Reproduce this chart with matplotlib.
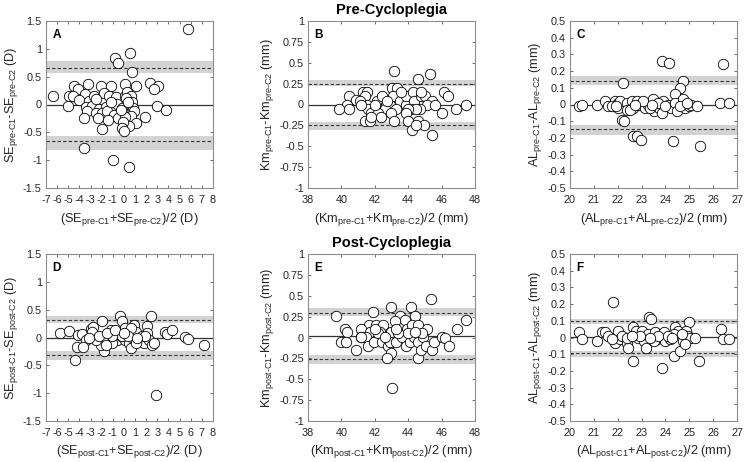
import matplotlib
matplotlib.use("Agg")
import matplotlib.pyplot as plt
import numpy as np

plt.rcParams['font.family'] = ['Liberation Sans', 'DejaVu Sans']
plt.rcParams['mathtext.fontset'] = 'custom'
plt.rcParams['mathtext.rm'] = 'Liberation Sans'
plt.rcParams['mathtext.it'] = 'Liberation Sans:italic'
plt.rcParams['mathtext.bf'] = 'Liberation Sans:bold'
plt.rcParams['axes.unicode_minus'] = False

# ---- data ----
a_x = [5.74, 0.56, -0.84, -0.51, 0.74, 2.32, 3.06, 2.67, -6.35, -4.47, -3.25, -4.17, -4.92, -4.56,
       -5.04, -3.49, -4.02, -3.13, -2.09, -1.14, 0.14, 1.04, -2.68, -1.79, -1.35, -0.75, 0.14, 0.29,
       0.59, 0.23, -3.43, -2.83, -2.24, -1.64, -1.05, -0.6, -0.21, 0.68, 0.8, 0.89, 3.0, 3.77, -3.28,
       -2.54, -2.0, -1.49, -0.9, -0.15, 0.59, -3.58, -2.33, -1.43, -0.51, 0.08, 1.87, 1.04, 0.44,
       -0.1, -0.21, 0.02, -2.0, -3.58, -1.02, 0.44, -1.2, -0.3, 0.35, -2.5]
a_y = [1.35, 0.93, 0.83, 0.75, 0.59, 0.38, 0.33, 0.28, 0.15, 0.34, 0.36, 0.27, 0.15, 0.15,
       -0.02, 0.19, 0.08, 0.07, 0.34, 0.33, 0.36, 0.34, 0.16, 0.2, 0.16, 0.13, 0.16, 0.22,
       0.16, 0.11, -0.04, -0.02, -0.08, -0.05, -0.02, 0.01, -0.06, 0.04, -0.06, -0.11, -0.03, -0.1, -0.11,
       -0.16, -0.16, -0.11, -0.18, -0.17, -0.2, -0.24, -0.24, -0.27, -0.24, -0.23, -0.23, -0.34, -0.38,
       -0.32, -0.42, -0.47, -0.44, -0.78, -1.0, -1.13, 0.05, -0.1, 0.05, 0.1]

b_x = [43.17, 45.29, 44.61, 43.03, 43.35, 41.29, 41.53, 40.44, 40.89, 46.14, 46.38, 47.44, 46.84,
       46.02, 40.36, 39.84, 40.44, 41.39, 41.55, 41.6, 42.15, 42.43, 42.69, 42.89, 43.09, 43.49,
       43.89, 43.89, 44.29, 44.35, 44.79, 44.99, 44.75, 45.43, 45.15, 45.62, 44.19, 44.69, 44.49,
       43.99, 43.29, 42.59, 41.99, 41.79, 42.19, 42.99, 43.85, 41.39, 41.73, 41.79, 42.39, 43.15,
       43.99, 44.59, 44.25, 44.95, 44.49, 45.43, 41.09, 42.73, 43.59, 41.99, 41.19]
b_y = [0.40, 0.36, 0.30, 0.20, 0.20, 0.15, 0.15, 0.10, 0.05, 0.15, 0.10, 0.0, -0.05,
       -0.10, 0.0, -0.05, -0.05, 0.10, 0.0, -0.05, 0.04, 0.10, 0.0, 0.0, 0.10, 0.04,
       0.0, 0.10, 0.15, 0.04, 0.10, 0.10, 0.15, 0.04, 0.0, 0.0, -0.05, -0.05, -0.05,
       -0.05, -0.05, -0.05, -0.05, -0.10, -0.10, -0.10, -0.10, -0.20, -0.20, -0.15, -0.15, -0.20,
       -0.20, -0.20, -0.30, -0.25, -0.25, -0.36, 0.04, 0.04, 0.15, 0.0, 0.0]

c_x = [23.84, 24.13, 26.42, 22.21, 24.72, 24.59, 24.40, 20.38, 20.52, 21.12, 21.47, 21.58, 21.89,
       22.0, 22.03, 22.1, 22.16, 22.26, 22.41, 22.58, 22.65, 22.79, 22.89, 23.14, 23.25, 23.49,
       23.53, 23.74, 23.87, 23.91, 24.12, 24.23, 24.40, 24.47, 24.75, 24.82, 24.99, 25.07, 25.31,
       22.65, 22.79, 22.97, 24.30, 25.45, 26.28, 26.66, 21.75, 23.35, 23.70, 22.37, 23.07, 23.98,
       24.61, 24.89, 22.51, 23.42, 21.91, 22.72]
c_y = [0.26, 0.25, 0.24, 0.13, 0.14, 0.10, 0.06, -0.01, 0.0, 0.0, 0.02, -0.01, 0.02,
       0.01, -0.02, 0.02, -0.09, -0.10, 0.01, 0.02, -0.02, 0.02, 0.0, -0.02, 0.0, 0.03,
       -0.04, -0.02, -0.05, 0.02, 0.0, -0.02, 0.01, -0.04, 0.03, -0.02, -0.01, 0.0, -0.01,
       -0.19, -0.19, -0.21, -0.22, -0.25, 0.01, 0.01, -0.01, -0.02, 0.01, -0.03, 0.02, -0.01,
       -0.01, 0.01, -0.03, 0.0, -0.01, 0.0]

d_x = [-0.39, 2.46, -2.0, -0.15, 2.08, 0.89, -5.72, -4.92, -4.17, -3.73, -2.98, -2.77, -2.83,
       -3.43, -4.26, -3.64, -4.41, -1.79, -2.09, -2.54, -1.64, -1.2, -0.9, -0.6, -0.6, 0.14,
       0.14, 0.44, 0.59, 0.8, 1.04, 1.39, 1.78, 2.08, 2.23, 2.52, 2.67, 3.65, 3.86, 4.31,
       5.5, 5.71, 7.17, 2.85, -1.05, -1.64, -0.3, 0.14, 0.59, 1.63, -0.15, -1.05, -2.24,
       -3.13, 1.1, 1.93, 0.38, -1.49, -0.81, 1.18, 0.05]
d_y = [0.39, 0.38, 0.29, 0.29, 0.21, 0.23, 0.08, 0.12, 0.05, 0.06, 0.15, 0.19, 0.10,
       -0.05, -0.17, -0.17, -0.40, -0.25, -0.13, -0.05, -0.01, 0.13, -0.05, -0.05, 0.08, 0.08,
       -0.05, -0.09, -0.19, -0.01, 0.10, -0.05, -0.09, 0.08, -0.05, -0.13, -0.09, 0.10, 0.06, 0.14,
       0.01, -0.03, -0.13, -1.03, -0.10, -0.13, 0.02, 0.17, 0.17, 0.02, 0.02, 0.02, 0.02,
       -0.01, -0.10, 0.02, 0.02, 0.08, 0.13, -0.01, 0.08]

e_x = [45.39, 39.70, 41.89, 42.95, 44.19, 47.48, 46.94, 44.39, 43.49, 43.79, 43.23, 43.95, 44.23,
       44.59, 41.65, 42.09, 42.49, 41.19, 41.69, 42.29, 42.99, 40.24, 40.36, 39.99, 40.30, 40.85,
       41.15, 41.49, 41.59, 41.95, 42.19, 42.43, 42.79, 42.89, 42.99, 42.75, 43.29, 43.63, 43.89,
       44.09, 44.35, 44.59, 44.59, 44.75, 44.89, 45.09, 45.43, 45.55, 46.02, 46.18, 46.42, 43.03,
       45.15, 44.85, 43.39, 42.59, 43.99, 44.39, 41.99, 43.29, 41.19]
e_y = [0.46, 0.26, 0.31, 0.36, 0.36, 0.21, 0.10, 0.26, 0.26, 0.21, 0.20, 0.10, 0.15,
       0.15, 0.15, 0.15, 0.15, 0.10, 0.06, 0.06, 0.06, 0.10, 0.06, -0.05, -0.05, -0.15,
       0.01, 0.01, -0.10, -0.05, 0.05, -0.05, -0.10, -0.05, -0.19, -0.25, -0.05, 0.01, -0.10,
       -0.05, 0.01, -0.05, -0.25, -0.15, 0.01, -0.10, -0.15, -0.05, 0.01, 0.0, -0.10, -0.60,
       0.10, 0.05, 0.05, 0.01, 0.05, 0.06, 0.10, 0.10, 0.01]

f_x = [21.82, 23.32, 23.39, 24.99, 26.35, 20.38, 20.52, 21.12, 21.33, 21.47, 21.61, 21.87, 22.03,
       22.10, 22.16, 22.37, 22.42, 22.65, 22.77, 22.65, 22.84, 23.03, 23.11, 23.18, 23.28, 23.56,
       23.63, 23.53, 23.95, 23.84, 23.98, 24.19, 24.40, 24.54, 24.37, 24.37, 24.61, 24.75, 24.85,
       24.96, 25.03, 25.24, 25.41, 26.40, 26.68, 22.93, 23.70, 24.12, 22.37, 24.82, 23.35, 21.75,
       22.58, 24.26, 24.68]
f_y = [0.21, 0.125, 0.11, 0.09, 0.05, 0.03, -0.01, -0.02, 0.03, 0.03, 0.01, -0.03, 0.04,
       -0.01, 0.01, -0.03, -0.06, 0.06, 0.04, -0.14, 0.0, 0.04, -0.02, -0.06, 0.02, 0.03,
       -0.01, -0.02, 0.03, -0.18, -0.02, -0.01, 0.06, 0.04, 0.02, -0.11, -0.08, -0.02, 0.04,
       0.01, 0.0, 0.0, -0.14, -0.01, -0.01, 0.01, 0.01, 0.01, 0.0, -0.04, 0.0, -0.01,
       0.01, 0.0, 0.02]

# mean bias, limits of agreement and their confidence bands
means = [0.0, 0.0, 0.0, 0.0, 0.02, 0.005]
loa_up = [0.66, 0.25, 0.143, 0.32, 0.29, 0.096]
loa_up_band = [(0.57, 0.78), (0.22, 0.29), (0.115, 0.17), (0.26, 0.395), (0.26, 0.35), (0.083, 0.113)]
loa_lo = [-0.65, -0.25, -0.147, -0.32, -0.26, -0.094]
loa_lo_band = [(-0.81, -0.56), (-0.30, -0.21), (-0.181, -0.123), (-0.40, -0.25), (-0.32, -0.21), (-0.119, -0.078)]

letters = ['A', 'B', 'C', 'D', 'E', 'F']
xs = [a_x, b_x, c_x, d_x, e_x, f_x]
ys = [a_y, b_y, c_y, d_y, e_y, f_y]


def sub(s):
    return r'$_{\text{' + s + r'}}$'


ylabels = ['SE' + sub('pre-C1') + '-SE' + sub('pre-C2') + ' (D)',
           'Km' + sub('pre-C1') + '-Km' + sub('pre-C2') + ' (mm)',
           'AL' + sub('pre-C1') + '-AL' + sub('pre-C2') + ' (mm)',
           'SE' + sub('post-C1') + '-SE' + sub('post-C2') + ' (D)',
           'Km' + sub('post-C1') + '-Km' + sub('post-C2') + ' (mm)',
           'AL' + sub('post-C1') + '-AL' + sub('post-C2') + ' (mm)']
xlabels = ['(SE' + sub('pre-C1') + '+SE' + sub('pre-C2') + ')/2 (D)',
           '(Km' + sub('pre-C1') + '+Km' + sub('pre-C2') + ')/2 (mm)',
           '(AL' + sub('pre-C1') + '+AL' + sub('pre-C2') + ')/2 (mm)',
           '(SE' + sub('post-C1') + '+SE' + sub('post-C2') + ')/2 (D)',
           '(Km' + sub('post-C1') + '+Km' + sub('post-C2') + ')/2 (mm)',
           '(AL' + sub('post-C1') + '+AL' + sub('post-C2') + ')/2 (mm)']

se_xt = list(range(-7, 9))
km_xt = [38, 40, 42, 44, 46, 48]
al_xt = list(range(20, 28))
se_yt = [-1.5, -1, -0.5, 0, 0.5, 1, 1.5]
km_yt = [-1, -0.75, -0.5, -0.25, 0, 0.25, 0.5, 0.75, 1]
al_yt = [-0.5, -0.4, -0.3, -0.2, -0.1, 0, 0.1, 0.2, 0.3, 0.4, 0.5]
xticks = [se_xt, km_xt, al_xt] * 2
yticks = [se_yt, km_yt, al_yt] * 2

W, H = 744, 462
fig = plt.figure(figsize=(W / 100, H / 100), dpi=100)

lefts = [46, 308, 570]
tops = [21, 254]
aw, ah = 167, 167

for i in range(6):
    r, c = divmod(i, 3)
    ax = fig.add_axes([lefts[c] / W, 1 - (tops[r] + ah) / H, aw / W, ah / H])
    xt, yt = xticks[i], yticks[i]
    ax.set_xlim(xt[0], xt[-1])
    ax.set_ylim(yt[0], yt[-1])

    ax.axhspan(*loa_up_band[i], color='#d3d3d3', lw=0, zorder=1)
    ax.axhspan(*loa_lo_band[i], color='#d3d3d3', lw=0, zorder=1)
    ax.axhline(loa_up[i], color='#333333', ls=(0, (3, 2)), lw=0.8, zorder=2)
    ax.axhline(loa_lo[i], color='#333333', ls=(0, (3, 2)), lw=0.8, zorder=2)
    ax.axhline(means[i], color='#333333', lw=0.9, zorder=2)

    ax.plot(xs[i], ys[i], 'o', ms=7.5, mfc='white', mec='black', mew=0.6, zorder=3)

    ax.set_xticks(xt)
    ax.set_xticklabels(['%g' % v for v in xt])
    ax.set_yticks(yt)
    ax.set_yticklabels(['%g' % v for v in yt])
    ax.tick_params(direction='in', top=True, right=True, length=2.5, width=0.6,
                   color='#555555', labelsize=7.8, labelcolor='#262626')
    ax.tick_params(axis='x', pad=5)
    ax.tick_params(axis='y', pad=3)
    for sp in ax.spines.values():
        sp.set_color('#8c8c8c')
        sp.set_linewidth(0.8)

    ax.set_xlabel(xlabels[i], fontsize=9.2, color='#262626', labelpad=4)
    ax.set_ylabel(ylabels[i], fontsize=9.2, color='#262626', labelpad=2)
    ax.text(0.04, 0.95, letters[i], transform=ax.transAxes, fontsize=8.5,
            fontweight='bold', va='top', ha='left')

    if i == 1:
        ax.set_title('Pre-Cycloplegia', fontsize=10.5, fontweight='bold', pad=5)
    if i == 4:
        ax.set_title('Post-Cycloplegia', fontsize=10.5, fontweight='bold', pad=5)

fig.savefig('out.png', dpi=100)
